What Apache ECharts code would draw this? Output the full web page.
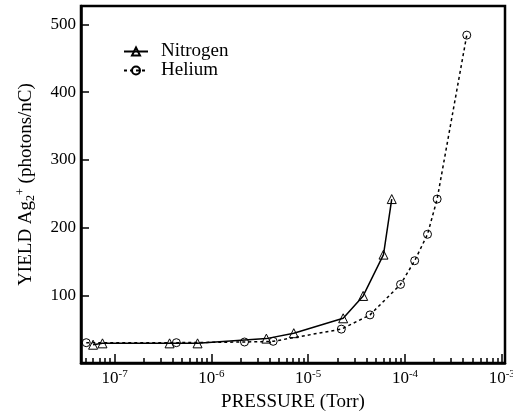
<!DOCTYPE html>
<html>
<head>
<meta charset="utf-8">
<script src="https://cdn.jsdelivr.net/npm/echarts@6/dist/echarts.min.js"></script>
<style>
  html, body { margin: 0; padding: 0; background: #fff; }
  #chart { width: 513px; height: 415px; }
</style>
</head>
<body>
<div id="chart"></div>
<script>
// pressure (Torr) and yield (photons/nC)
var nitrogenP = [6.0e-8, 7.5e-8, 3.7e-7, 7.2e-7, 3.7e-6, 7.1e-6, 2.3e-5, 3.7e-5, 6.0e-5, 7.3e-5];
var nitrogenY = [27, 29, 29, 29, 36, 44, 66, 99, 160, 242];
var heliumP = [5.1e-8, 4.35e-7, 2.2e-6, 4.35e-6, 2.2e-5, 4.35e-5, 9.0e-5, 1.26e-4, 1.71e-4, 2.15e-4, 4.35e-4];
var heliumY = [30, 30, 31, 32, 50, 71, 116, 151, 190, 242, 484];
var yTicks = [100, 200, 300, 400, 500];

var font = 'Liberation Serif';

function pairs(xs, ys) {
    return xs.map(function (x, i) { return [x, ys[i]]; });
}

// minor tick positions 2..9 x 10^n
var minorTicks = [];
for (var e = -8; e <= -3; e++) {
    for (var k = 2; k <= 9; k++) {
        var v = k * Math.pow(10, e);
        if (v > 4.5e-8 && v < 1.08e-3) minorTicks.push(v);
    }
}

var chart = echarts.init(document.getElementById('chart'));
chart.setOption({
    animation: false,
    grid: {
        left: 81, right: 8, top: 6, bottom: 52,
        containLabel: false,
        outerBoundsMode: 'none',
        show: true,
        borderColor: '#000',
        borderWidth: 2.5
    },
    legend: {
        left: 123,
        top: 42,
        orient: 'vertical',
        itemWidth: 24,
        itemHeight: 10,
        itemGap: 0,
        padding: 0,
        textStyle: { fontFamily: font, fontSize: 19, color: '#000', padding: [0, 0, 0, 8] },
        data: ['Nitrogen', 'Helium']
    },
    xAxis: [
        {
            type: 'log',
            min: 4.5e-8,
            max: 1.08e-3,
            logBase: 10,
            name: 'PRESSURE (Torr)',
            nameLocation: 'middle',
            nameGap: 29,
            nameTextStyle: { fontFamily: font, fontSize: 19, color: '#000' },
            axisLine: { lineStyle: { color: '#000', width: 2.5 } },
            axisTick: { inside: true, length: 9, lineStyle: { color: '#000', width: 1.5 } },
            splitLine: { show: false },
            axisLabel: {
                margin: 6,
                color: '#000',
                fontFamily: font,
                fontSize: 17,
                formatter: function (v) {
                    var lg = Math.log10(v);
                    var n = Math.round(lg);
                    if (Math.abs(lg - n) > 0.01) return '';
                    return '10{sup|' + n + '}';
                },
                rich: {
                    sup: { fontFamily: font, fontSize: 11, color: '#000', verticalAlign: 'top', padding: [0, 0, 9, 0] }
                }
            }
        },
        {
            type: 'log',
            min: 4.5e-8,
            max: 1.08e-3,
            logBase: 10,
            position: 'bottom',
            axisLine: { show: false },
            axisTick: { inside: true, length: 5, customValues: minorTicks, lineStyle: { color: '#000', width: 1.5 } },
            axisLabel: { show: false },
            splitLine: { show: false }
        }
    ],
    yAxis: {
        type: 'value',
        min: 0,
        max: 527,
        interval: 100,
        name: 'YIELD Ag{sub|2}{sup|+} (photons/nC)',
        nameLocation: 'middle',
        nameGap: 44,
        nameTextStyle: {
            fontFamily: font, fontSize: 19, color: '#000',
            rich: {
                sub: { fontFamily: font, fontSize: 12, color: '#000', verticalAlign: 'bottom', padding: [7, 0, 0, 0] },
                sup: { fontFamily: font, fontSize: 12, color: '#000', verticalAlign: 'top', padding: [0, 0, 10, 0] }
            }
        },
        axisLine: { lineStyle: { color: '#000', width: 2.5 } },
        axisTick: { inside: true, length: 8, lineStyle: { color: '#000', width: 1.5 } },
        splitLine: { show: false },
        axisLabel: {
            margin: 5,
            color: '#000',
            fontFamily: font,
            fontSize: 17,
            formatter: function (v) {
                return yTicks.indexOf(v) >= 0 ? String(v) : '';
            }
        }
    },
    series: [
        {
            name: 'Nitrogen',
            type: 'line',
            data: pairs(nitrogenP, nitrogenY),
            symbol: 'triangle',
            symbolSize: 9,
            lineStyle: { color: '#000', width: 1.5 },
            itemStyle: { color: 'rgba(0,0,0,0)', borderColor: '#000', borderWidth: 1 }
        },
        {
            name: 'Helium',
            type: 'line',
            data: pairs(heliumP, heliumY),
            symbol: 'circle',
            symbolSize: 8,
            lineStyle: { color: '#000', width: 1.5, type: [3, 3] },
            itemStyle: { color: 'rgba(0,0,0,0)', borderColor: '#000', borderWidth: 1 }
        }
    ]
});
</script>
</body>
</html>
